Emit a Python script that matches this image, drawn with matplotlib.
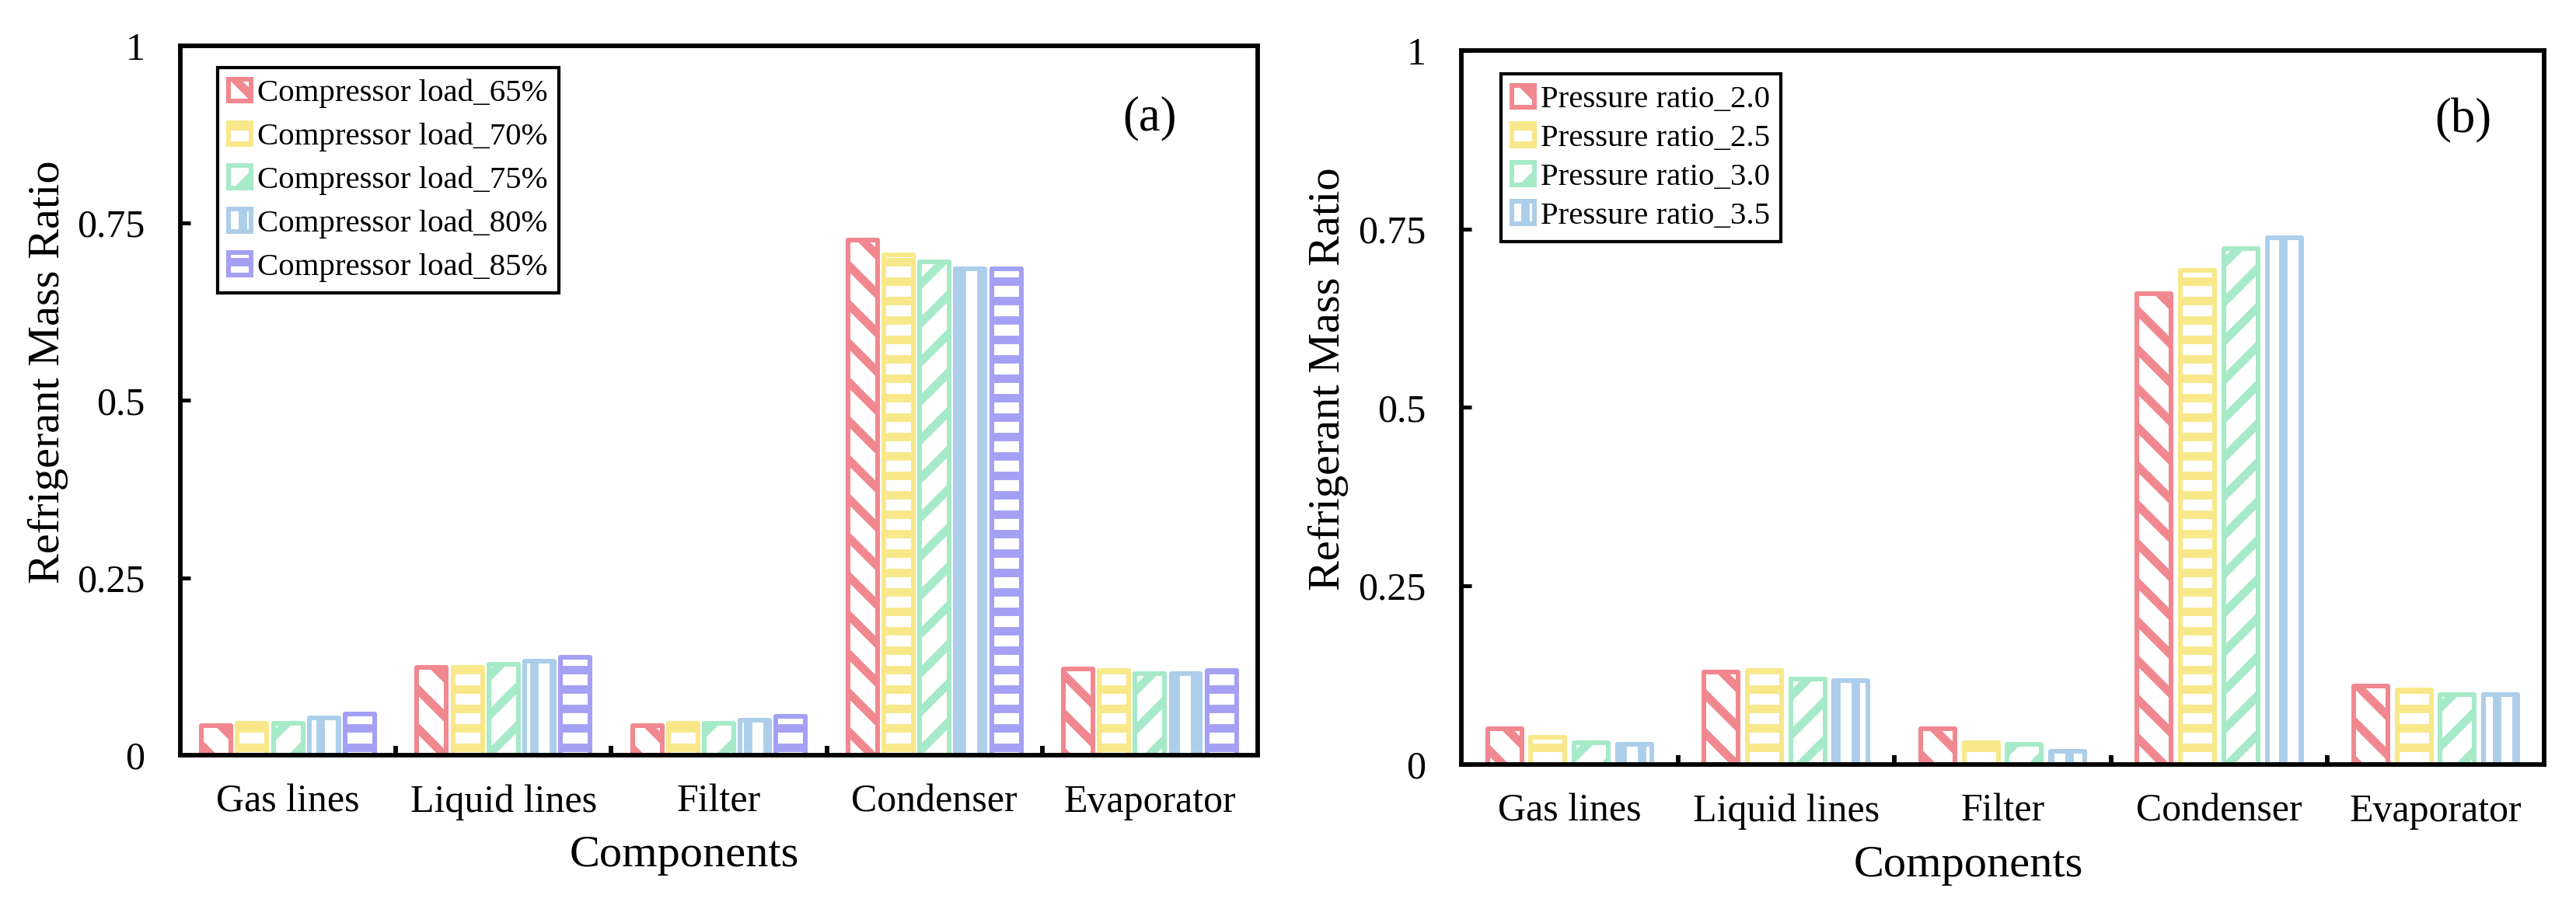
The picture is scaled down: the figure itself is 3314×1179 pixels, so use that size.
import matplotlib
matplotlib.use("Agg")
import matplotlib.pyplot as plt
import numpy as np

plt.rcParams['font.family'] = ['Liberation Serif', 'DejaVu Serif']
plt.rcParams['hatch.linewidth'] = 2.6

components = ['Gas lines', 'Liquid lines', 'Filter', 'Condenser', 'Evaporator']
ytick_vals = [0, 0.25, 0.5, 0.75, 1]
ytick_labels = ['0', '0.25', '0.5', '0.75', '1']

# (a) compressor load
load_labels = ['Compressor load_65%', 'Compressor load_70%', 'Compressor load_75%',
               'Compressor load_80%', 'Compressor load_85%']
load_65 = [0.042, 0.124, 0.042, 0.726, 0.122]
load_70 = [0.045, 0.124, 0.045, 0.705, 0.119]
load_75 = [0.045, 0.128, 0.045, 0.695, 0.115]
load_80 = [0.052, 0.132, 0.049, 0.686, 0.115]
load_85 = [0.058, 0.138, 0.055, 0.686, 0.119]

# (b) pressure ratio
ratio_labels = ['Pressure ratio_2.0', 'Pressure ratio_2.5', 'Pressure ratio_3.0',
                'Pressure ratio_3.5']
ratio_20 = [0.050, 0.130, 0.050, 0.659, 0.110]
ratio_25 = [0.038, 0.132, 0.031, 0.692, 0.104]
ratio_30 = [0.031, 0.120, 0.028, 0.722, 0.098]
ratio_35 = [0.028, 0.117, 0.019, 0.738, 0.098]

red, yellow, green, blue, purple = '#F1878F', '#F8E88A', '#A6EAC8', '#ACCEEA', '#A4A0F4'


def draw_panel(ax, series, labels, colors, hatches, step, width, tag, legend_anchor,
               labelspacing, tag_pos):
    x = np.arange(len(components))
    n = len(series)
    for i, (vals, lab, col, hat) in enumerate(zip(series, labels, colors, hatches)):
        off = (i - (n - 1) / 2) * step
        ax.bar(x + off, vals, width, label=lab, facecolor='white', edgecolor=col,
               hatch=hat, linewidth=1.45, joinstyle='round')
    ax.set_xlim(-0.5, 4.5)
    ax.set_ylim(0, 1)
    ax.set_yticks(ytick_vals)
    ax.set_yticklabels(ytick_labels)
    ax.set_xticks(x)
    ax.set_xticklabels(components)
    ax.set_xticks(x[:-1] + 0.5, minor=True)
    ax.tick_params(axis='y', direction='in', length=3.1, width=1.2, labelsize=12, pad=11)
    ax.tick_params(axis='x', which='major', length=0, labelsize=12, pad=9)
    ax.tick_params(axis='x', which='minor', direction='in', length=2.9, width=1.4)
    for sp in ax.spines.values():
        sp.set_linewidth(1.4)
    ax.set_xlabel('Components', fontsize=14)
    ax.set_ylabel('Refrigerant Mass Ratio', fontsize=14)
    ax.xaxis.set_label_coords(0.468, -0.113)
    ax.yaxis.set_label_coords(-0.104, 0.54)
    ax.text(tag_pos[0], tag_pos[1], tag, transform=ax.transAxes, fontsize=15,
            ha='center', va='center')
    leg = ax.legend(loc='upper left', bbox_to_anchor=legend_anchor, borderaxespad=0,
                    fontsize=9.8, fancybox=False, edgecolor='black', framealpha=1,
                    handlelength=0.7, handleheight=0.7, handletextpad=0.2,
                    borderpad=0.35, labelspacing=labelspacing)
    leg.get_frame().set_linewidth(1.0)


fig = plt.figure(figsize=(3314 / 300, 1179 / 300), dpi=300)
ax1 = fig.add_axes([0.0700, 0.1756, 0.4182, 0.7744])
ax2 = fig.add_axes([0.5673, 0.1654, 0.4203, 0.7795])

draw_panel(ax1, [load_65, load_70, load_75, load_80, load_85], load_labels,
           [red, yellow, green, blue, purple], ['\\\\', '--', '//', '||', '--'],
           1 / 6, 0.137, '(a)', (0.0346, 0.969), 0.45, (0.900, 0.898))
draw_panel(ax2, [ratio_20, ratio_25, ratio_30, ratio_35], ratio_labels,
           [red, yellow, green, blue], ['\\\\', '--', '//', '||'],
           0.2, 0.158, '(b)', (0.0366, 0.967), 0.3, (0.925, 0.902))

fig.savefig('out.png', dpi=300, facecolor='white')
